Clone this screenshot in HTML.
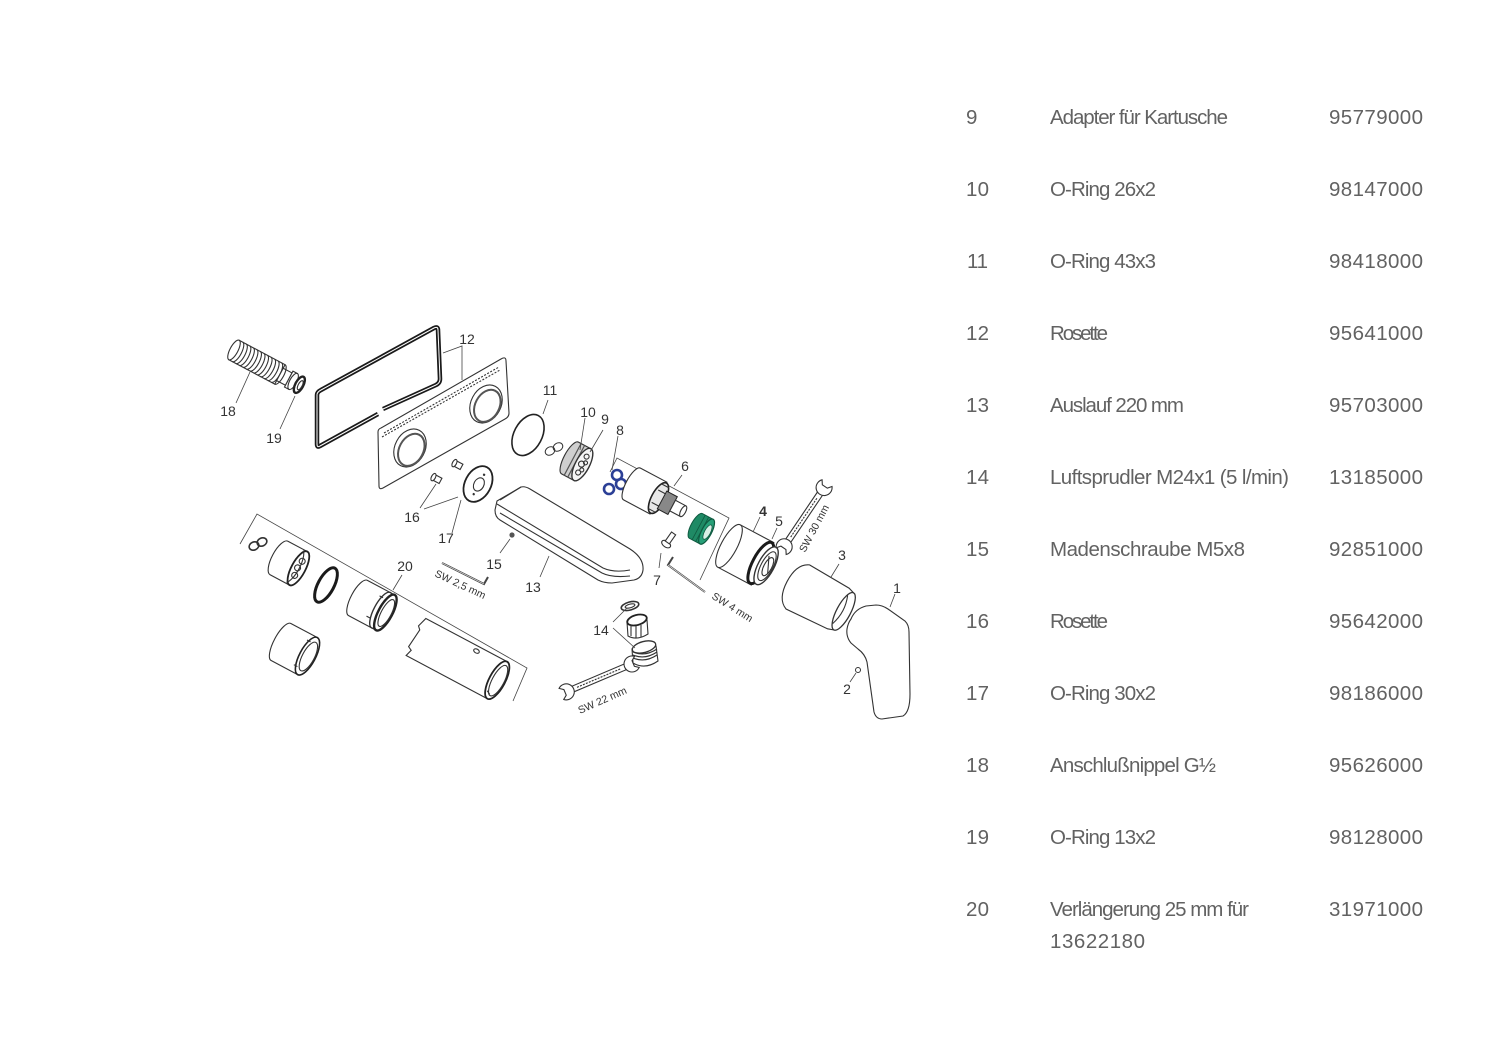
<!DOCTYPE html>
<html><head><meta charset="utf-8"><style>
html,body{margin:0;padding:0;background:#fff;}
svg{display:block;}
.t{font-family:"Liberation Sans",sans-serif;font-size:20.5px;fill:#626262;}
.l{font-family:"Liberation Sans",sans-serif;font-size:14px;fill:#333;text-anchor:middle;}
.s{font-family:"Liberation Sans",sans-serif;font-size:10.5px;fill:#333;}
.k{fill:none;stroke:#333;stroke-width:1.1;}
.kw{fill:#fff;stroke:#333;stroke-width:1.1;}
.th{fill:none;stroke:#222;stroke-width:2.6;}
.ld{fill:none;stroke:#444;stroke-width:0.8;}
</style></head><body>
<svg width="1497" height="1058" viewBox="0 0 1497 1058" xmlns="http://www.w3.org/2000/svg">
<rect width="1497" height="1058" fill="#fff"/>

<!-- ===== TABLE ===== -->
<g class="t">
<text x="966" y="124" textLength="11">9</text>
<text x="1050" y="124" textLength="178">Adapter für Kartusche</text>
<text x="1329" y="124" textLength="94">95779000</text>

<text x="966" y="196" textLength="23">10</text>
<text x="1050" y="196" textLength="106">O-Ring 26x2</text>
<text x="1329" y="196" textLength="94">98147000</text>

<text x="967" y="268" textLength="21">11</text>
<text x="1050" y="268" textLength="106">O-Ring 43x3</text>
<text x="1329" y="268" textLength="94">98418000</text>

<text x="966" y="340" textLength="23">12</text>
<text x="1050" y="340" textLength="58">Rosette</text>
<text x="1329" y="340" textLength="94">95641000</text>

<text x="966" y="412" textLength="23">13</text>
<text x="1050" y="412" textLength="134">Auslauf 220 mm</text>
<text x="1329" y="412" textLength="94">95703000</text>

<text x="966" y="484" textLength="23">14</text>
<text x="1050" y="484" textLength="239">Luftsprudler M24x1 (5 l/min)</text>
<text x="1329" y="484" textLength="94">13185000</text>

<text x="966" y="556" textLength="23">15</text>
<text x="1050" y="556" textLength="195">Madenschraube M5x8</text>
<text x="1329" y="556" textLength="94">92851000</text>

<text x="966" y="628" textLength="23">16</text>
<text x="1050" y="628" textLength="58">Rosette</text>
<text x="1329" y="628" textLength="94">95642000</text>

<text x="966" y="700" textLength="23">17</text>
<text x="1050" y="700" textLength="106">O-Ring 30x2</text>
<text x="1329" y="700" textLength="94">98186000</text>

<text x="966" y="772" textLength="23">18</text>
<text x="1050" y="772" textLength="166">Anschlußnippel G½</text>
<text x="1329" y="772" textLength="94">95626000</text>

<text x="966" y="844" textLength="23">19</text>
<text x="1050" y="844" textLength="106">O-Ring 13x2</text>
<text x="1329" y="844" textLength="94">98128000</text>

<text x="966" y="916" textLength="23">20</text>
<text x="1050" y="916" textLength="199">Verlängerung 25 mm für</text>
<text x="1329" y="916" textLength="94">31971000</text>
<text x="1050" y="948" textLength="95">13622180</text>
</g>

<!-- ===== DRAWING ===== -->

<!-- 18 nipple + 19 o-ring -->
<g transform="translate(234,350) rotate(28)">
  <path class="kw" d="M0,-11 L52,-11 L52,11 L0,11 Z"/>
  <ellipse class="kw" cx="0" cy="0" rx="4" ry="11"/>
  <path class="k" d="M4,-11 A4,11 0 0 1 4,11 M8,-11 A4,11 0 0 1 8,11 M12,-11 A4,11 0 0 1 12,11 M16,-11 A4,11 0 0 1 16,11 M20,-11 A4,11 0 0 1 20,11 M24,-11 A4,11 0 0 1 24,11 M28,-11 A4,11 0 0 1 28,11 M32,-11 A4,11 0 0 1 32,11 M36,-11 A4,11 0 0 1 36,11 M40,-11 A4,11 0 0 1 40,11 M44,-11 A4,11 0 0 1 44,11 M48,-11 A4,11 0 0 1 48,11"/>
  <path class="kw" d="M52,-7 L62,-7 L62,7 L52,7 Z"/>
  <path class="k" d="M52,-11 A4,11 0 0 1 52,11"/>
  <path class="kw" d="M62,-9 L67,-9 L67,9 L62,9 Z"/>
  <ellipse class="kw" cx="67" cy="0" rx="3.5" ry="9"/>
  <ellipse cx="74" cy="0" rx="4" ry="9" fill="#fff" stroke="#222" stroke-width="2.4"/>
  <ellipse class="k" cx="75" cy="0" rx="2" ry="5"/>
</g>
<path class="ld" d="M236,403 L250,372 M280,429 L295,396"/>
<text class="l" x="228" y="416">18</text>
<text class="l" x="274" y="443">19</text>

<!-- 12 gasket frame -->
<path d="M378,414 L320,446 Q317,448 317,444 L317,395 Q317,392 321,390 L434,328 Q438,326 438,330 L440,379 Q440,383 436,385 L383,409" fill="none" stroke="#1a1a1a" stroke-width="4.5" stroke-linejoin="round"/>
<path d="M378,414 L320,446 Q317,448 317,444 L317,395 Q317,392 321,390 L434,328 Q438,326 438,330 L440,379 Q440,383 436,385 L383,409" fill="none" stroke="#fff" stroke-width="1" stroke-linejoin="round"/>

<!-- 12 plate -->
<path class="kw" d="M381,428 L501,359 Q506,356 506,361 L509,413 Q509,417 505,419 L383,488 Q379,490 379,486 L378,432 Q378,429 381,428 Z"/>
<path class="k" d="M384,433 L499,367 M382,437 L500,370" stroke-dasharray="2,1.5"/>
<g transform="translate(410,448) rotate(28)">
  <ellipse class="kw" cx="0" cy="0" rx="15" ry="20"/>
  <ellipse cx="2" cy="1" rx="12" ry="17" fill="#fff" stroke="#555" stroke-width="2"/>
</g>
<g transform="translate(486,404) rotate(28)">
  <ellipse class="kw" cx="0" cy="0" rx="15" ry="20"/>
  <ellipse cx="2" cy="1" rx="12" ry="17" fill="#fff" stroke="#555" stroke-width="2"/>
</g>
<path class="ld" d="M443,353 L462,346 L462,380"/>
<text class="l" x="467" y="344">12</text>

<!-- 11 O-ring -->
<g transform="translate(528,435) rotate(28)">
  <ellipse cx="0" cy="0" rx="14" ry="22" fill="none" stroke="#222" stroke-width="1.6"/>
</g>
<path class="ld" d="M548,400 L543,414"/>
<text class="l" x="550" y="395">11</text>

<!-- 16 screws, 17 disc -->
<g transform="translate(437,479) rotate(28)"><path class="kw" d="M-4,-3 L4,-3 L4,3 L-4,3 Z"/><ellipse class="kw" cx="-4" cy="0" rx="2" ry="4"/></g>
<g transform="translate(458,465) rotate(28)"><path class="kw" d="M-4,-3 L4,-3 L4,3 L-4,3 Z"/><ellipse class="kw" cx="-4" cy="0" rx="2" ry="4"/></g>
<g transform="translate(478,484) rotate(28)">
  <ellipse cx="0" cy="0" rx="13" ry="19" fill="#fff" stroke="#222" stroke-width="1.8"/>
  <ellipse class="k" cx="1" cy="0" rx="5" ry="7"/>
  <circle cx="1" cy="-11" r="1.2" fill="#333"/><circle cx="1" cy="11" r="1.2" fill="#333"/>
</g>
<path class="ld" d="M420,508 L436,484 M424,509 L458,497 M452,533 L461,500"/>
<text class="l" x="412" y="522">16</text>
<text class="l" x="446" y="543">17</text>

<!-- 13 spout -->
<path class="kw" d="M497,501 L521,487 Q525,486 530,489 L630,549 Q644,558 643,570 Q642,578 634,580 L612,583 Q604,583 598,580 L500,520 Q495,517 495,510 Z"/>
<path class="k" d="M497,504 L603,568 Q614,573 630,570 M500,513 L602,573 Q612,578 630,576"/>
<path class="k" d="M521,487 L500,500"/>
<path class="ld" d="M540,577 L549,556"/>
<text class="l" x="533" y="592">13</text>

<!-- 15 grub screw -->
<circle cx="512" cy="535" r="2.6" fill="#555"/>
<path class="ld" d="M500,553 L510,539"/>
<text class="l" x="494" y="569">15</text>

<!-- SW 2,5 key -->
<path d="M442,563 L484,584 L488,577" fill="none" stroke="#444" stroke-width="2"/>
<path d="M442,563 L484,584" fill="none" stroke="#fff" stroke-width="0.6"/>
<text class="s" transform="translate(434,576) rotate(25)">SW 2,5 mm</text>

<!-- 20 group bracket -->
<path class="ld" d="M240,544 L257,514 L527,668 L513,701"/>
<path class="ld" d="M402,575 L393,590"/>
<text class="l" x="405" y="571">20</text>
<ellipse cx="254" cy="546" rx="5" ry="4" fill="none" stroke="#333" stroke-width="1.6" transform="rotate(-25 254 546)"/>
<ellipse cx="262" cy="542" rx="5" ry="4" fill="none" stroke="#333" stroke-width="1.6" transform="rotate(-25 262 542)"/>
<g transform="translate(279,558) rotate(28)">
  <path class="kw" d="M0,-19 L22,-19 L22,19 L0,19 A7,19 0 0 1 0,-19 Z"/>
  <ellipse cx="22" cy="0" rx="7" ry="19" fill="#fff" stroke="#222" stroke-width="1.8"/>
  <circle class="k" cx="22" cy="-8" r="3"/><circle class="k" cx="22" cy="8" r="3"/><circle class="k" cx="21" cy="0" r="3"/>
  <path class="k" d="M18,-18 A7,19 0 0 1 18,18"/>
</g>
<g transform="translate(326,585) rotate(28)"><ellipse cx="0" cy="0" rx="8" ry="19" fill="none" stroke="#1a1a1a" stroke-width="3"/></g>
<g transform="translate(358,598) rotate(28)">
  <path class="kw" d="M0,-20 L30,-20 L30,20 L0,20 A7,20 0 0 1 0,-20 Z"/>
  <ellipse cx="26" cy="0" rx="7" ry="20" fill="none" stroke="#333" stroke-width="1.4"/>
  <ellipse cx="31" cy="0" rx="7" ry="20" fill="#fff" stroke="#222" stroke-width="2.4"/>
  <ellipse class="k" cx="32" cy="0" rx="5" ry="15"/>
  <path class="k" d="M18,-12 L22,-12 M16,12 L20,12"/>
</g>
<g transform="translate(416,637) rotate(28)">
  <path class="kw" d="M0,-21 L92,-21 L92,21 L0,21 L2,14 L-2,12 L0,-8 L-3,-11 Z"/>
  <ellipse cx="92" cy="0" rx="8" ry="21" fill="#fff" stroke="#222" stroke-width="1.8"/>
  <ellipse class="k" cx="93" cy="0" rx="6" ry="17"/>
  <ellipse class="k" cx="60" cy="-16" rx="3" ry="2"/>
  <path class="k" d="M88,14 L92,16"/>
</g>
<g transform="translate(281,642) rotate(28)">
  <path class="kw" d="M0,-21 L30,-21 L30,21 L0,21 A7,21 0 0 1 0,-21 Z"/>
  <ellipse cx="30" cy="0" rx="8" ry="21" fill="#fff" stroke="#222" stroke-width="1.6"/>
  <ellipse class="k" cx="31" cy="0" rx="6" ry="16"/>
  <path class="k" d="M22,-14 L26,-14 M22,14 L26,14"/>
</g>

<!-- 10/9 adapter -->
<ellipse cx="550" cy="451" rx="5" ry="4" fill="none" stroke="#333" stroke-width="1" transform="rotate(-30 550 451)"/>
<ellipse cx="558" cy="447" rx="5" ry="4" fill="none" stroke="#333" stroke-width="1" transform="rotate(-30 558 447)"/>
<g transform="translate(570,458) rotate(28)">
  <path d="M0,-18 L13,-18 L13,18 L0,18 A6,18 0 0 1 0,-18 Z" fill="#cfcfcf" stroke="#333" stroke-width="1.1"/>
  <path d="M3,-18 L3,18 M7,-18 L7,18" stroke="#555" stroke-width="1.2"/>
  <ellipse cx="14" cy="0" rx="7" ry="18" fill="#f5f5f5" stroke="#333" stroke-width="1.4"/>
  <circle class="k" cx="14" cy="-9" r="2.5"/><circle class="k" cx="14" cy="9" r="2.5"/><circle class="k" cx="13" cy="0" r="3"/>
  <circle class="k" cx="16" cy="-3" r="2"/><circle class="k" cx="16" cy="5" r="2"/>
</g>
<path class="ld" d="M585,418 L580,450 M603,430 L590,452 M618,436 L612,470"/>
<text class="l" x="588" y="417">10</text>
<text class="l" x="605" y="424">9</text>
<text class="l" x="620" y="435">8</text>

<!-- 8 blue -->
<g fill="none" stroke="#2b3f96" stroke-width="2.6">
  <circle cx="617" cy="475" r="5"/>
  <circle cx="621" cy="484" r="5"/>
  <circle cx="609" cy="489" r="5"/>
</g>

<!-- 6 cartridge -->
<path class="ld" d="M610,472 L617,458 L729,518 L700,580"/>
<path class="ld" d="M682,475 L674,486"/>
<text class="l" x="685" y="471">6</text>
<g transform="translate(632,484) rotate(28)">
  <path class="kw" d="M0,-18 L30,-18 L30,18 L0,18 A6,18 0 0 1 0,-18 Z"/>
  <ellipse cx="30" cy="0" rx="7" ry="17" fill="#e8e8e8" stroke="#222" stroke-width="1.6"/>
  <path class="k" d="M26,-14 L34,-14 M26,-7 L34,-7 M26,7 L34,7 M26,14 L34,14"/>
  <path d="M34,-10 L46,-10 L46,10 L34,10 Z" fill="#888" stroke="#222" stroke-width="1"/>
  <path class="kw" d="M46,-6 L58,-6 L58,6 L46,6 Z"/>
  <ellipse class="kw" cx="58" cy="0" rx="2.5" ry="6"/>
</g>

<!-- green nut -->
<g transform="translate(696,526) rotate(28)">
  <path d="M0,-14 L12,-14 L12,14 L0,14 A5,14 0 0 1 0,-14 Z" fill="#1f8a65" stroke="#0f5a40" stroke-width="1"/>
  <ellipse cx="12" cy="0" rx="5" ry="14" fill="#27a078" stroke="#0f5a40" stroke-width="1.2"/>
  <ellipse cx="13" cy="0" rx="3" ry="8" fill="#d8efe6" stroke="#0f5a40" stroke-width="0.8"/>
  <path d="M3,-14 L3,14 M7,-14 L7,14" stroke="#0f5a40" stroke-width="0.8"/>
</g>

<!-- 7 screw -->
<g transform="translate(669,540) rotate(-55)">
  <ellipse cx="-5" cy="0" rx="3" ry="5" class="kw"/>
  <path class="kw" d="M-3,-2.5 L8,-2.5 L8,2.5 L-3,2.5 Z"/>
</g>
<path class="ld" d="M659,568 L661,553"/>
<text class="l" x="657" y="585">7</text>

<!-- SW 4 key -->
<path d="M673,557 L668,565 L705,592" fill="none" stroke="#444" stroke-width="2"/>
<path d="M668,565 L705,592" fill="none" stroke="#fff" stroke-width="0.6"/>
<text class="s" transform="translate(711,598) rotate(32)">SW 4 mm</text>

<!-- 4/5 -->
<g transform="translate(729,546) rotate(28)">
  <path class="kw" d="M0,-24 L38,-24 L38,24 L0,24 A8,24 0 0 1 0,-24 Z"/>
  <path class="k" d="M0,-24 A8,24 0 0 1 0,24"/>
  <ellipse cx="36" cy="0" rx="8" ry="23" fill="#fff" stroke="#1a1a1a" stroke-width="3"/>
  <ellipse cx="42" cy="0" rx="8" ry="21" fill="#fff" stroke="#333" stroke-width="1.4"/>
  <ellipse class="k" cx="43" cy="0" rx="6" ry="16"/>
  <ellipse class="k" cx="44" cy="0" rx="4" ry="10"/>
  <path class="k" d="M40,-10 L47,6"/>
</g>
<path class="ld" d="M760,517 L753,532 M777,528 L772,539"/>
<text class="l" x="763" y="516" style="font-weight:bold">4</text>
<text class="l" x="779" y="526">5</text>

<!-- SW 30 wrench -->
<g transform="translate(784,547) rotate(-56)">
  <path class="kw" d="M7,-3 L65,-3 L65,3 L7,3 Z"/>
  <path class="k" d="M12,0 L60,0" stroke-dasharray="2,1.2"/>
  <path class="kw" d="M-5,-6 A8,8 0 1 1 -5,6 L-1,3 L-1,-3 Z"/>
  <path class="kw" d="M77,-6 A8,8 0 1 0 77,6 L73,3 L73,-3 Z"/>
</g>
<text class="s" transform="translate(805,553) rotate(-62)">SW 30 mm</text>

<!-- 3 cap -->
<g transform="translate(796,586) rotate(28)">
  <path class="kw" d="M2,-25 L48,-23 L54,-21 L54,21 L48,23 L2,25 Q-10,20 -10,0 Q-10,-20 2,-25 Z"/>
  <ellipse cx="54" cy="0" rx="7" ry="21" fill="#fff" stroke="#333" stroke-width="1.3"/>
  <path class="k" d="M50,-16 Q56,0 50,16"/>
</g>
<path class="ld" d="M839,564 L831,577"/>
<text class="l" x="842" y="560">3</text>

<!-- 1 handle -->
<path class="kw" d="M851,619 Q855,609 866,606 L876,605 Q882,605 888,609 L905,621 Q909,625 909,632 L910,694 Q910,712 903,716 L882,719 Q876,719 874,712 L867,662 Q865,654 858,649 L851,643 Q846,637 847,629 Q848,623 851,619 Z"/>
<path class="ld" d="M895,594 L890,607"/>
<text class="l" x="897" y="593">1</text>

<!-- 2 screw -->
<circle cx="858" cy="670" r="2.5" fill="#fff" stroke="#333" stroke-width="1"/>
<path class="ld" d="M850,682 L856,673"/>
<text class="l" x="847" y="694">2</text>

<!-- 14 aerator -->
<ellipse cx="630" cy="606" rx="9" ry="4" fill="#fff" stroke="#333" stroke-width="1.6" transform="rotate(-15 630 606)"/>
<ellipse cx="630" cy="606" rx="5" ry="1.8" class="k" transform="rotate(-15 630 606)"/>
<path class="kw" d="M627,622 L628,636 Q637,641 648,634 L647,620 Z"/>
<ellipse cx="637" cy="620" rx="10" ry="5" fill="#fff" stroke="#222" stroke-width="1.8" transform="rotate(-15 637 620)"/>
<path class="k" d="M631,625 L631,636 M636,626 L636,638 M641,625 L641,637"/>
<path class="kw" d="M632,649 L633,663 Q645,670 658,661 L656,646 Z"/>
<ellipse cx="644" cy="647" rx="12" ry="5.5" fill="#fff" stroke="#333" stroke-width="1.3" transform="rotate(-15 644 647)"/>
<path class="k" d="M633,652 Q645,657 657,649 M633,655 Q645,660 657,652 M633,658 Q645,663 657,655"/>
<path class="ld" d="M613,622 L627,608 M613,628 L635,648"/>
<text class="l" x="601" y="635">14</text>

<!-- SW 22 wrench -->
<g transform="translate(566,692) rotate(-23)">
  <path class="kw" d="M7,-3 L65,-3 L65,3 L7,3 Z"/>
  <path class="k" d="M12,0 L60,0" stroke-dasharray="2,1.2"/>
  <path class="kw" d="M-5,-6 A8,8 0 1 1 -5,6 L-1,3 L-1,-3 Z"/>
  <path class="kw" d="M77,-6 A8,8 0 1 0 77,6 L73,3 L73,-3 Z"/>
</g>
<text class="s" transform="translate(580,714) rotate(-24)">SW 22 mm</text>

</svg>
</body></html>
